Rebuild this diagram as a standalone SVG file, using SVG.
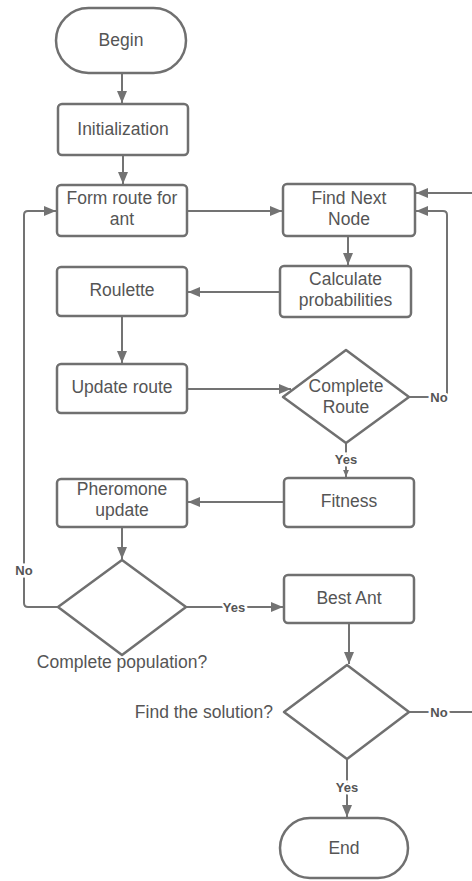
<svg xmlns="http://www.w3.org/2000/svg" width="472" height="881" viewBox="0 0 472 881">
<defs>
<marker id="arr" viewBox="0 0 12 10" refX="12" refY="5" markerWidth="12" markerHeight="10" markerUnits="userSpaceOnUse" orient="auto">
<path d="M0,0 L12,5 L0,10 z" fill="#737373"/>
</marker>
<marker id="arrs" viewBox="0 0 12 10" refX="12" refY="5" markerWidth="7" markerHeight="6" markerUnits="userSpaceOnUse" orient="auto">
<path d="M0,0 L12,5 L0,10 z" fill="#737373"/>
</marker>
<style>
.n{fill:#fff;stroke:#707070;stroke-width:2.5}
.t{font-family:"Liberation Sans",Arial,sans-serif;font-size:17.5px;fill:#555;text-anchor:middle}
.c{fill:none;stroke:#737373;stroke-width:2}
.a{marker-end:url(#arr)}
.l{font-family:"Liberation Sans",Arial,sans-serif;font-size:13px;font-weight:bold;fill:#555;text-anchor:middle;dominant-baseline:central;stroke:#fff;stroke-width:5;paint-order:stroke}
</style>
</defs>
<rect width="472" height="881" fill="#fff"/>
<g id="connectors">
<path class="c a" d="M122,73 V103"/>
<path class="c a" d="M123,155 V184"/>
<path class="c a" d="M187,211 H282"/>
<path class="c a" d="M348,236 V265"/>
<path class="c a" d="M280,292 H188"/>
<path class="c a" d="M122,316 V363"/>
<path class="c a" d="M187,389 H291"/>
<path class="c a" d="M409,397 H443 Q447,397 447,393 V215 Q447,211 443,211 H416"/>
<path class="c" d="M346,443 V477" marker-end="url(#arrs)"/>
<path class="c a" d="M284,502 H188"/>
<path class="c a" d="M122,527 V559"/>
<path class="c a" d="M58,607 H28 Q24,607 24,603 V215 Q24,211 28,211 H56"/>
<path class="c a" d="M186,607 H283"/>
<path class="c a" d="M349,623 V664"/>
<path class="c a" d="M409,712 H478 V193 H416"/>
<path class="c a" d="M347,759 V817"/>
<text class="l" x="439" y="397">No</text>
<text class="l" x="346" y="459">Yes</text>
<text class="l" x="24" y="570">No</text>
<text class="l" x="234" y="607">Yes</text>
<text class="l" x="439" y="712">No</text>
<text class="l" x="347" y="787">Yes</text>
</g>
<g id="begin">
<rect class="n" x="56" y="8" width="130" height="65" rx="32.5"/>
<text class="t" x="121" y="46">Begin</text>
</g>
<g id="init">
<rect class="n" x="58" y="104" width="130" height="51" rx="4"/>
<text class="t" x="123" y="135">Initialization</text>
</g>
<g id="form">
<rect class="n" x="57" y="185" width="130" height="51" rx="4"/>
<text class="t" x="122" y="204">Form route for</text>
<text class="t" x="122" y="225">ant</text>
</g>
<g id="findnext">
<rect class="n" x="283" y="184" width="132" height="52" rx="4"/>
<text class="t" x="349" y="204">Find Next</text>
<text class="t" x="349" y="225">Node</text>
</g>
<g id="calc">
<rect class="n" x="280" y="266" width="131" height="51" rx="4"/>
<text class="t" x="345.5" y="285">Calculate</text>
<text class="t" x="345.5" y="306">probabilities</text>
</g>
<g id="roulette">
<rect class="n" x="57" y="267" width="130" height="49" rx="4"/>
<text class="t" x="122" y="296">Roulette</text>
</g>
<g id="update">
<rect class="n" x="57" y="364" width="130" height="49" rx="4"/>
<text class="t" x="122" y="393">Update route</text>
</g>
<g id="completeroute">
<path class="n" d="M346,350 L409,397 L346,443 L283,397 Z" stroke-linejoin="round"/>
<text class="t" x="346" y="392">Complete</text>
<text class="t" x="346" y="413">Route</text>
</g>
<g id="fitness">
<rect class="n" x="284" y="478" width="130" height="49" rx="4"/>
<text class="t" x="349" y="507">Fitness</text>
</g>
<g id="pheromone">
<rect class="n" x="57" y="479" width="130" height="48" rx="4"/>
<text class="t" x="122" y="495">Pheromone</text>
<text class="t" x="122" y="516">update</text>
</g>
<g id="population">
<path class="n" d="M122,560 L186,607 L122,655 L58,607 Z" stroke-linejoin="round"/>
<text class="t" x="122" y="668">Complete population?</text>
</g>
<g id="bestant">
<rect class="n" x="284" y="575" width="130" height="48" rx="4"/>
<text class="t" x="349" y="604">Best Ant</text>
</g>
<g id="solution">
<path class="n" d="M347,665 L409,712 L347,759 L284,712 Z" stroke-linejoin="round"/>
<text class="t" x="273" y="718" style="text-anchor:end">Find the solution?</text>
</g>
<g id="end">
<rect class="n" x="280" y="818" width="128" height="60" rx="30"/>
<text class="t" x="344" y="854">End</text>
</g>
</svg>
